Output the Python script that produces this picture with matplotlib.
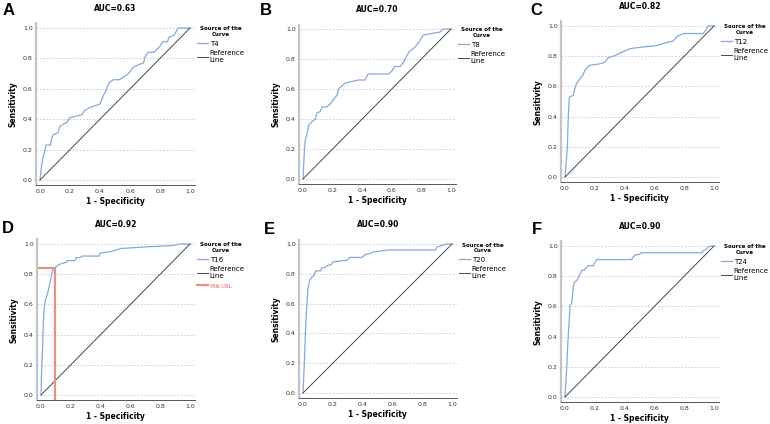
import matplotlib
matplotlib.use('Agg')
import matplotlib.pyplot as plt

plt.rcParams['font.family'] = ['DejaVu Sans']

# ROC curves: (1 - specificity, sensitivity)
fpr_t4 = [0, 0.01, 0.02, 0.03, 0.04, 0.07, 0.08, 0.09, 0.12, 0.13, 0.16, 0.18, 0.20, 0.24, 0.28, 0.30,
          0.34, 0.37, 0.40, 0.42, 0.44, 0.46, 0.49, 0.53, 0.56, 0.59, 0.62, 0.66, 0.69, 0.70, 0.72, 0.76,
          0.78, 0.80, 0.82, 0.85, 0.86, 0.89, 0.91, 0.92, 1.0]
tpr_t4 = [0, 0.09, 0.15, 0.18, 0.23, 0.23, 0.28, 0.30, 0.31, 0.35, 0.37, 0.38, 0.41, 0.42, 0.43, 0.46,
          0.48, 0.49, 0.50, 0.55, 0.59, 0.64, 0.66, 0.66, 0.68, 0.70, 0.74, 0.76, 0.77, 0.81, 0.84, 0.84,
          0.86, 0.88, 0.91, 0.91, 0.94, 0.95, 0.98, 1.0, 1.0]

fpr_t8 = [0, 0.005, 0.01, 0.016, 0.027, 0.038, 0.06, 0.083, 0.094, 0.117, 0.128, 0.16, 0.184, 0.207,
          0.23, 0.24, 0.263, 0.285, 0.33, 0.375, 0.42, 0.44, 0.577, 0.60, 0.62, 0.656, 0.68, 0.70, 0.72,
          0.757, 0.78, 0.813, 0.87, 0.926, 0.948, 1.0]
tpr_t8 = [0, 0.10, 0.20, 0.26, 0.30, 0.36, 0.38, 0.40, 0.44, 0.45, 0.48, 0.48, 0.50, 0.53,
          0.56, 0.60, 0.62, 0.64, 0.65, 0.66, 0.66, 0.70, 0.70, 0.72, 0.75, 0.75, 0.78, 0.82, 0.85,
          0.88, 0.91, 0.96, 0.97, 0.98, 1.0, 1.0]

fpr_t12 = [0, 0.016, 0.022, 0.029, 0.056, 0.067, 0.078, 0.10, 0.123, 0.134, 0.157, 0.168, 0.235, 0.268,
           0.29, 0.324, 0.347, 0.39, 0.436, 0.515, 0.615, 0.68, 0.727, 0.75, 0.794, 0.928, 0.95, 0.96, 1.0]
tpr_t12 = [0, 0.20, 0.40, 0.53, 0.54, 0.59, 0.62, 0.65, 0.68, 0.71, 0.73, 0.74, 0.75, 0.76,
           0.79, 0.80, 0.81, 0.83, 0.85, 0.86, 0.87, 0.89, 0.90, 0.93, 0.95, 0.95, 0.98, 1.0, 1.0]

fpr_t16 = [0, 0.005, 0.011, 0.016, 0.023, 0.03, 0.046, 0.057, 0.069, 0.076, 0.085, 0.103, 0.114, 0.137,
           0.172, 0.176, 0.229, 0.236, 0.263, 0.275, 0.389, 0.396, 0.469, 0.538, 0.687, 0.888, 0.933, 1.0]
tpr_t16 = [0, 0.19, 0.32, 0.48, 0.59, 0.63, 0.68, 0.73, 0.79, 0.82, 0.84, 0.85, 0.86, 0.87,
           0.88, 0.89, 0.89, 0.91, 0.91, 0.92, 0.92, 0.94, 0.95, 0.97, 0.98, 0.99, 1.0, 1.0]

fpr_t20 = [0, 0.009, 0.016, 0.021, 0.028, 0.032, 0.039, 0.046, 0.055, 0.062, 0.074, 0.085, 0.12, 0.124,
           0.143, 0.154, 0.177, 0.189, 0.20, 0.28, 0.292, 0.303, 0.315, 0.395, 0.407, 0.418, 0.453,
           0.464, 0.575, 0.888, 0.90, 0.933, 0.966, 1.0]
tpr_t20 = [0, 0.20, 0.40, 0.51, 0.62, 0.69, 0.73, 0.76, 0.77, 0.78, 0.79, 0.82, 0.82, 0.84,
           0.84, 0.85, 0.86, 0.86, 0.88, 0.89, 0.89, 0.90, 0.91, 0.91, 0.92, 0.93, 0.935,
           0.945, 0.96, 0.96, 0.98, 0.99, 1.0, 1.0]

fpr_t24 = [0, 0.011, 0.018, 0.027, 0.034, 0.045, 0.056, 0.063, 0.078, 0.089, 0.10, 0.112, 0.13, 0.134,
           0.145, 0.157, 0.19, 0.20, 0.213, 0.447, 0.452, 0.47, 0.50, 0.51, 0.917, 0.928, 0.95, 0.962,
           0.984, 1.0]
tpr_t24 = [0, 0.18, 0.34, 0.49, 0.61, 0.62, 0.73, 0.76, 0.77, 0.79, 0.81, 0.84, 0.84, 0.85,
           0.86, 0.87, 0.87, 0.89, 0.91, 0.91, 0.92, 0.94, 0.945, 0.955, 0.955, 0.97, 0.98, 0.995,
           1.0, 1.0]

letters = ['A', 'B', 'C', 'D', 'E', 'F']
curve_names = ['T4', 'T8', 'T12', 'T16', 'T20', 'T24']
auc_values = ['0.63', '0.70', '0.82', '0.92', '0.90', '0.90']
fprs = [fpr_t4, fpr_t8, fpr_t12, fpr_t16, fpr_t20, fpr_t24]
tprs = [tpr_t4, tpr_t8, tpr_t12, tpr_t16, tpr_t20, tpr_t24]

# 99th URL cut-off shown on panel D
url_fpr = 0.092
url_tpr = 0.838

# pixel positions of data 0 and 1 for each panel (x0, x1, y0, y1), y measured from top
boxes = [(40, 190, 180, 28), (303, 451, 179, 29), (565, 714, 177, 26),
         (41, 190, 395, 244), (303, 452, 393, 244), (565, 714, 397, 246)]
letter_pos = [(3, 3), (260, 3), (530, 3), (2, 221), (264, 222), (532, 222)]

W, H = 770, 424
xlim = (-0.03, 1.035)
ylim = (-0.035, 1.03)

fig = plt.figure(figsize=(W / 100, H / 100), dpi=100)

roc_col = '#86a9d6'
ref_col = '#3f4b4b'

for i in range(6):
    x0, x1, y0, y1 = boxes[i]
    w = x1 - x0
    h = y0 - y1
    left = x0 + xlim[0] * w
    right = x0 + xlim[1] * w
    bottom = y0 - ylim[0] * h
    top = y0 - ylim[1] * h
    ax = fig.add_axes([left / W, 1 - bottom / H, (right - left) / W, (bottom - top) / H])

    ax.plot(fprs[i], tprs[i], color=roc_col, lw=0.9, label=curve_names[i])
    ax.plot([0, 1], [0, 1], color=ref_col, lw=0.7, label='Reference\nLine')
    if curve_names[i] == 'T16':
        ax.plot([xlim[0], url_fpr, url_fpr], [url_tpr, url_tpr, ylim[0]], color='#e3928a', lw=1.6,
                label='99th URL', solid_joinstyle='miter')

    ax.set_xlim(xlim)
    ax.set_ylim(ylim)
    ticks = [0, 0.2, 0.4, 0.6, 0.8, 1.0]
    ax.set_xticks(ticks)
    ax.set_yticks(ticks)
    ax.set_xticklabels(['0.0', '0.2', '0.4', '0.6', '0.8', '1.0'])
    ax.set_yticklabels(['0.0', '0.2', '0.4', '0.6', '0.8', '1.0'])
    ax.tick_params(length=0, labelsize=4.5, colors='#333333')
    ax.tick_params(axis='x', pad=2.5)
    ax.tick_params(axis='y', pad=2)
    for t in ticks:
        ax.axhline(t, color='#c8c8c8', lw=0.6, ls=(0, (2, 2)), zorder=0)

    for s in ['top', 'right']:
        ax.spines[s].set_visible(False)
    ax.spines['left'].set_color('#c4c4c4')
    ax.spines['left'].set_linewidth(1.6)
    ax.spines['bottom'].set_color('#555555')
    ax.spines['bottom'].set_linewidth(0.7)

    ax.set_xlabel('1 - Specificity', fontsize=5.5, fontweight='bold', labelpad=2.5)
    ax.set_ylabel('Sensitivity', fontsize=5.5, fontweight='bold', labelpad=4)
    ax.set_title('AUC=' + auc_values[i], fontsize=5.5, fontweight='bold', pad=9)

    leg = ax.legend(loc='upper left', bbox_to_anchor=(1.0, 0.99), frameon=False,
                    title='Source of the\nCurve', fontsize=5.0, handlelength=1.6,
                    handletextpad=0.3, borderaxespad=0.1, borderpad=0.1, labelspacing=0.5)
    leg.get_title().set_fontsize(4.0)
    leg.get_title().set_fontweight('bold')
    leg.get_title().set_multialignment('center')
    for txt in leg.get_texts():
        if txt.get_text() == '99th URL':
            txt.set_color('#d9534f')
            txt.set_family('Liberation Serif')
            txt.set_fontsize(4)

    lx, ly = letter_pos[i]
    fig.text(lx / W, 1 - ly / H, letters[i], fontsize=12, fontweight='bold',
             family='Liberation Sans', va='top', ha='left')

fig.savefig('out.png', dpi=100)
